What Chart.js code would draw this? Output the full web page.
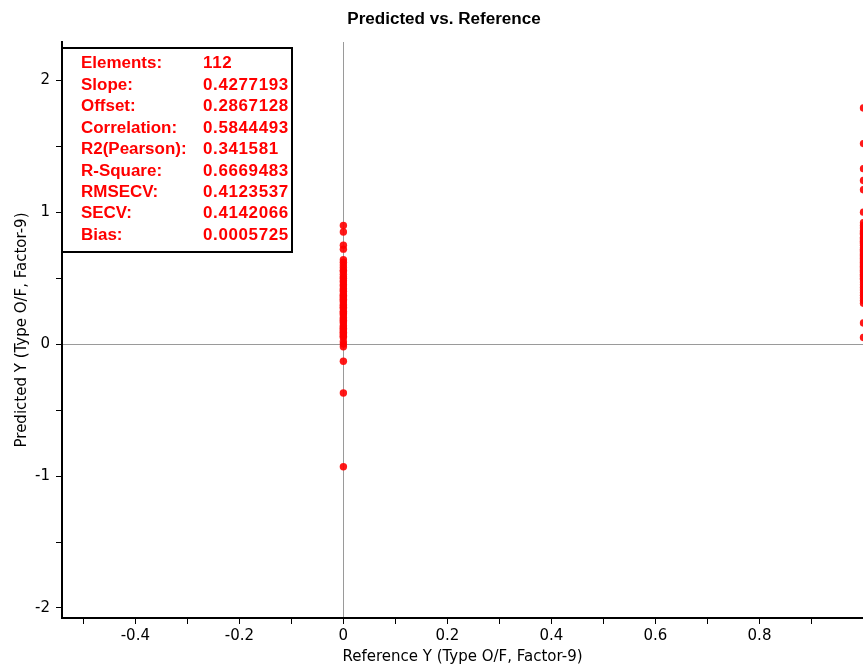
<!DOCTYPE html>
<html>
<head>
<meta charset="utf-8">
<script src="https://cdn.jsdelivr.net/npm/chart.js@4/dist/chart.umd.min.js"></script>
<style>
html,body{margin:0;padding:0;background:#fff;}
#wrap{width:863px;height:666px;position:relative;}
</style>
</head>
<body>
<div id="wrap"><canvas id="c" width="863" height="666"></canvas></div>
<script>
// ---- data ----
const chartTitle = "Predicted vs. Reference";
const xTitle = "Reference Y (Type O/F, Factor-9)";
const yTitle = "Predicted Y (Type O/F, Factor-9)";

const refClass0 = 0;
const predClass0 = [0.90, 0.85, 0.75, 0.72, 0.64, 0.62, 0.60, 0.58, 0.56, 0.55, 0.53, 0.51, 0.50, 0.48,
  0.47, 0.45, 0.44, 0.42, 0.41, 0.40, 0.38, 0.37, 0.35, 0.34, 0.33, 0.32, 0.30, 0.29, 0.28, 0.27,
  0.25, 0.24, 0.23, 0.22, 0.20, 0.19, 0.18, 0.17, 0.16, 0.14, 0.13, 0.12, 0.11, 0.10, 0.09, 0.08,
  0.07, 0.06, 0.05, 0.02, 0.00, -0.02, -0.13, -0.37, -0.93, 0.36];

const refClass1 = 1;
const predClass1 = [1.79, 1.52, 1.33, 1.24, 1.17, 1.00, 0.92, 0.90, 0.88, 0.86, 0.85, 0.84, 0.83, 0.81,
  0.80, 0.79, 0.78, 0.77, 0.76, 0.75, 0.73, 0.72, 0.71, 0.70, 0.69, 0.68, 0.67, 0.66, 0.65, 0.64,
  0.63, 0.62, 0.61, 0.60, 0.59, 0.58, 0.57, 0.56, 0.55, 0.54, 0.53, 0.52, 0.51, 0.50, 0.49, 0.47,
  0.45, 0.43, 0.41, 0.39, 0.37, 0.35, 0.33, 0.31, 0.16, 0.05];

const statLabels = ["Elements:", "Slope:", "Offset:", "Correlation:", "R2(Pearson):", "R-Square:", "RMSECV:", "SECV:", "Bias:"];
const statValues = ["112", "0.4277193", "0.2867128", "0.5844493", "0.341581", "0.6669483", "0.4123537", "0.4142066", "0.0005725"];

const xMin = -0.541, xMax = 0.999, xStep = 0.1;
const yMin = -2.076, yMax = 2.29, yStep = 0.5;

// ---- build ----
// class 1 first so the dataset is not x-sorted (all points get drawn, even at the right edge)
const points = predClass1.map(v => ({x: refClass1, y: v}))
  .concat(predClass0.map(v => ({x: refClass0, y: v})));

const FONT = "'Liberation Sans', Arial, sans-serif";
const AXFONT = "'DejaVu Sans', sans-serif";

const overlay = {
  id: 'overlay',
  afterDraw(chart) {
    const ctx = chart.ctx;
    ctx.save();
    // title
    ctx.fillStyle = '#000';
    ctx.font = "bold 16px " + FONT;
    ctx.textAlign = 'center';
    ctx.textBaseline = 'middle';
    ctx.save();
    ctx.translate(444, 19.5);
    ctx.scale(1.066, 1);
    ctx.fillText(chartTitle, 0, 0);
    ctx.restore();
    // stats box
    const a = chart.chartArea;
    const bx = a.left, by = 48, bw = 230, bh = 204;
    ctx.fillStyle = '#fff';
    ctx.fillRect(bx, by, bw, bh);
    ctx.strokeStyle = '#000';
    ctx.lineWidth = 2;
    ctx.strokeRect(bx, by, bw, bh);
    ctx.fillStyle = '#ff0000';
    ctx.font = "bold 16px " + FONT;
    ctx.textAlign = 'left';
    ctx.textBaseline = 'middle';
    statLabels.forEach((lab, i) => {
      const yy = by + 16 + i * 21.44;
      ctx.save();
      ctx.translate(81, yy);
      ctx.scale(1.06, 1);
      ctx.letterSpacing = '0px';
      ctx.fillText(lab, 0, 0);
      ctx.restore();
      ctx.save();
      ctx.translate(203, yy);
      ctx.scale(1.06, 1);
      ctx.letterSpacing = '0.6px';
      ctx.fillText(statValues[i], 0, 0);
      ctx.restore();
    });
    ctx.restore();
  }
};

function keepSteps(step) {
  return function(scale) {
    scale.ticks = scale.ticks.filter(t => Math.abs(t.value / step - Math.round(t.value / step)) < 1e-6);
  };
}

new Chart(document.getElementById('c'), {
  type: 'scatter',
  data: {
    datasets: [{
      data: points,
      pointRadius: 3.7,
      pointHoverRadius: 3.7,
      pointBackgroundColor: 'rgba(255,0,0,0.9)',
      pointBorderColor: 'rgba(255,0,0,0.9)',
      pointBorderWidth: 0,
      clip: false
    }]
  },
  options: {
    responsive: false,
    animation: false,
    devicePixelRatio: 1,
    layout: {autoPadding: false, padding: {top: 42, right: 0, left: 0, bottom: 0}},
    plugins: {legend: {display: false}, tooltip: {enabled: false}, title: {display: false}},
    scales: {
      x: {
        type: 'linear', min: xMin, max: xMax,
        ticks: {
          stepSize: xStep, autoSkip: false, maxRotation: 0, includeBounds: false,
          color: '#000', font: {family: AXFONT, size: 15}, padding: 3,
          callback: (v) => {
            const r = Math.round(v * 10);
            return r % 2 === 0 ? String(Number((r / 10).toFixed(1))) : '';
          }
        },
        afterBuildTicks: keepSteps(xStep),
        afterFit: (s) => { s.height = 48; s.paddingLeft = 0; s.paddingRight = 0; },
        grid: {
          color: (c) => (c.tick && Math.abs(c.tick.value) < 1e-9) ? '#9a9a9a' : 'rgba(0,0,0,0)',
          lineWidth: 1, tickColor: '#000', tickLength: 6, drawTicks: true
        },
        border: {display: true, color: '#000', width: 2},
        title: {display: true, text: xTitle, color: '#000', font: {family: AXFONT, size: 15}, padding: {top: 0, bottom: 0}}
      },
      y: {
        type: 'linear', min: yMin, max: yMax,
        ticks: {
          stepSize: yStep, autoSkip: false, includeBounds: false,
          color: '#000', font: {family: AXFONT, size: 15}, padding: 6,
          callback: (v) => {
            const r = Math.round(v * 2);
            return r % 2 === 0 ? String(r / 2) : '';
          }
        },
        afterBuildTicks: keepSteps(yStep),
        afterFit: (s) => { s.width = 62; s.paddingTop = 0; s.paddingBottom = 0; },
        grid: {
          color: (c) => (c.tick && Math.abs(c.tick.value) < 1e-9) ? '#9a9a9a' : 'rgba(0,0,0,0)',
          lineWidth: 1, tickColor: '#000', tickLength: 6, drawTicks: true
        },
        border: {display: true, color: '#000', width: 2},
        title: {display: true, text: yTitle, color: '#000', font: {family: AXFONT, size: 15}, padding: {top: 13, bottom: 0}}
      }
    }
  },
  plugins: [overlay]
});
</script>
</body>
</html>
